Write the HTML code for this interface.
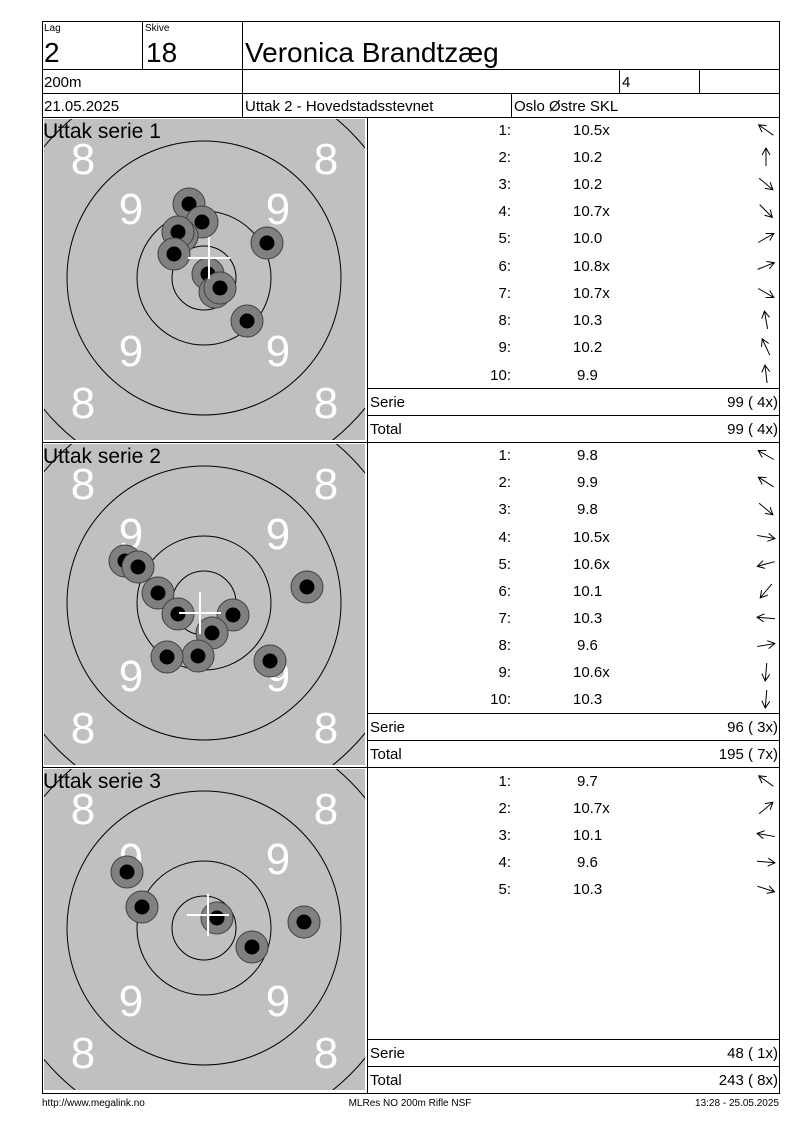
<!DOCTYPE html>
<html><head><meta charset="utf-8"><style>
html,body{margin:0;padding:0;background:#fff;width:800px;height:1130px;overflow:hidden}
svg{display:block;font-family:"Liberation Sans",Arial,sans-serif}
text{font-family:"Liberation Sans",Arial,sans-serif;fill:#000}
.w{fill:#fff;font-size:44px}
.s{font-size:15px}
</style></head><body>
<svg width="800" height="1130" viewBox="0 0 800 1130" xmlns="http://www.w3.org/2000/svg" font-family="Liberation Sans, Arial, sans-serif">
<defs>
<clipPath id="cp"><rect x="44" y="2" width="321" height="321"/></clipPath>
<g id="tgt">
  <rect x="44" y="2" width="321" height="321" fill="#c0c0c0"/>
  <g fill="none" stroke="#000" stroke-width="1">
    <circle cx="204" cy="161" r="32"/>
    <circle cx="204" cy="161" r="67"/>
    <circle cx="204" cy="161" r="137"/>
  </g>
  <g clip-path="url(#cp)"><circle cx="204" cy="161" r="207" fill="none" stroke="#000"/></g>
  <g fill="#fff" font-size="44" font-family="Liberation Sans, Arial, sans-serif" text-anchor="middle">
  <text class="w" x="83" y="57">8</text>
  <text class="w" x="326" y="57">8</text>
  <text class="w" x="83" y="301">8</text>
  <text class="w" x="326" y="301">8</text>
  <text class="w" x="131" y="107">9</text>
  <text class="w" x="278" y="107">9</text>
  <text class="w" x="131" y="249">9</text>
  <text class="w" x="278" y="249">9</text>
  </g>
</g>
<g id="shot"><circle r="16" fill="#808080" stroke="#404040" stroke-width="1"/><circle r="7.5" fill="#000"/></g>
<g id="ar"><path d="M-9,0 H9 M2,-4 L9,0 L2,4" fill="none" stroke="#000" stroke-width="1"/></g>
</defs>

<use href="#tgt" y="117"/>
<use href="#tgt" y="442"/>
<use href="#tgt" y="767"/>

<use href="#shot" x="189" y="204"/><use href="#shot" x="202" y="222"/><use href="#shot" x="182" y="236"/><use href="#shot" x="178" y="232"/><use href="#shot" x="174" y="254"/><use href="#shot" x="267" y="243"/><use href="#shot" x="208" y="274"/><use href="#shot" x="215" y="292"/><use href="#shot" x="220" y="288"/><use href="#shot" x="247" y="321"/>
<g stroke="#fff" stroke-width="2"><line x1="188" y1="258" x2="230" y2="258"/><line x1="209" y1="237" x2="209" y2="279"/></g>
<use href="#shot" x="125" y="561"/><use href="#shot" x="138" y="567"/><use href="#shot" x="158" y="593"/><use href="#shot" x="178" y="614"/><use href="#shot" x="233" y="615"/><use href="#shot" x="212" y="633"/><use href="#shot" x="198" y="656"/><use href="#shot" x="167" y="657"/><use href="#shot" x="307" y="587"/><use href="#shot" x="270" y="661"/>
<g stroke="#fff" stroke-width="2"><line x1="179" y1="613" x2="221" y2="613"/><line x1="200" y1="592" x2="200" y2="634"/></g>
<use href="#shot" x="127" y="872"/><use href="#shot" x="142" y="907"/><use href="#shot" x="217" y="918"/><use href="#shot" x="252" y="947"/><use href="#shot" x="304" y="922"/>
<g stroke="#fff" stroke-width="2"><line x1="187" y1="915" x2="229" y2="915"/><line x1="208" y1="894" x2="208" y2="936"/></g>

<g stroke="#000" stroke-width="1" fill="none">
  <rect x="42.5" y="21.5" width="737" height="1072"/>
  <line x1="42" y1="69.5" x2="780" y2="69.5"/>
  <line x1="42" y1="93.5" x2="780" y2="93.5"/>
  <line x1="42" y1="117.5" x2="780" y2="117.5"/>
  <line x1="142.5" y1="21" x2="142.5" y2="69"/>
  <line x1="242.5" y1="21" x2="242.5" y2="117"/>
  <line x1="619.5" y1="69" x2="619.5" y2="93"/>
  <line x1="699.5" y1="69" x2="699.5" y2="93"/>
  <line x1="511.5" y1="93" x2="511.5" y2="117"/>
  <line x1="367.5" y1="117" x2="367.5" y2="1093"/>
  <line x1="42" y1="442.5" x2="780" y2="442.5"/>
  <line x1="42" y1="767.5" x2="780" y2="767.5"/>
  <line x1="367" y1="388.5" x2="780" y2="388.5"/>
  <line x1="367" y1="415.5" x2="780" y2="415.5"/>
  <line x1="367" y1="713.5" x2="780" y2="713.5"/>
  <line x1="367" y1="740.5" x2="780" y2="740.5"/>
  <line x1="367" y1="1039.5" x2="780" y2="1039.5"/>
  <line x1="367" y1="1066.5" x2="780" y2="1066.5"/>
</g>

<text x="44" y="31" font-size="10">Lag</text>
<text x="44" y="62" font-size="28">2</text>
<text x="145" y="31" font-size="10">Skive</text>
<text x="146" y="62" font-size="28">18</text>
<text x="245" y="62" font-size="28">Veronica Brandtzæg</text>
<text x="44" y="87" font-size="15">200m</text>
<text x="622" y="87" font-size="15">4</text>
<text x="44" y="111" font-size="15">21.05.2025</text>
<text x="245" y="111" font-size="15">Uttak 2 - Hovedstadsstevnet</text>
<text x="514" y="111" font-size="15">Oslo Østre SKL</text>

<text x="43" y="138" font-size="21">Uttak serie 1</text>
<text x="43" y="463" font-size="21">Uttak serie 2</text>
<text x="43" y="788" font-size="21">Uttak serie 3</text>

<g font-size="15">
<text x="511" y="135" text-anchor="end" class="s">1:</text><text x="573" y="135" class="s">10.5x</text>
<text x="511" y="162" text-anchor="end" class="s">2:</text><text x="573" y="162" class="s">10.2</text>
<text x="511" y="189" text-anchor="end" class="s">3:</text><text x="573" y="189" class="s">10.2</text>
<text x="511" y="216" text-anchor="end" class="s">4:</text><text x="573" y="216" class="s">10.7x</text>
<text x="511" y="243" text-anchor="end" class="s">5:</text><text x="573" y="243" class="s">10.0</text>
<text x="511" y="271" text-anchor="end" class="s">6:</text><text x="573" y="271" class="s">10.8x</text>
<text x="511" y="298" text-anchor="end" class="s">7:</text><text x="573" y="298" class="s">10.7x</text>
<text x="511" y="325" text-anchor="end" class="s">8:</text><text x="573" y="325" class="s">10.3</text>
<text x="511" y="352" text-anchor="end" class="s">9:</text><text x="573" y="352" class="s">10.2</text>
<text x="511" y="380" text-anchor="end" class="s">10:</text><text x="577" y="380" class="s">9.9</text>
<text x="370" y="407" class="s">Serie</text><text x="778" y="407" text-anchor="end" class="s">99 ( 4x)</text>
<text x="370" y="434" class="s">Total</text><text x="778" y="434" text-anchor="end" class="s">99 ( 4x)</text>

<text x="511" y="460" text-anchor="end" class="s">1:</text><text x="577" y="460" class="s">9.8</text>
<text x="511" y="487" text-anchor="end" class="s">2:</text><text x="577" y="487" class="s">9.9</text>
<text x="511" y="514" text-anchor="end" class="s">3:</text><text x="577" y="514" class="s">9.8</text>
<text x="511" y="542" text-anchor="end" class="s">4:</text><text x="573" y="542" class="s">10.5x</text>
<text x="511" y="569" text-anchor="end" class="s">5:</text><text x="573" y="569" class="s">10.6x</text>
<text x="511" y="596" text-anchor="end" class="s">6:</text><text x="573" y="596" class="s">10.1</text>
<text x="511" y="623" text-anchor="end" class="s">7:</text><text x="573" y="623" class="s">10.3</text>
<text x="511" y="650" text-anchor="end" class="s">8:</text><text x="577" y="650" class="s">9.6</text>
<text x="511" y="677" text-anchor="end" class="s">9:</text><text x="573" y="677" class="s">10.6x</text>
<text x="511" y="704" text-anchor="end" class="s">10:</text><text x="573" y="704" class="s">10.3</text>
<text x="370" y="732" class="s">Serie</text><text x="778" y="732" text-anchor="end" class="s">96 ( 3x)</text>
<text x="370" y="759" class="s">Total</text><text x="778" y="759" text-anchor="end" class="s">195 ( 7x)</text>

<text x="511" y="786" text-anchor="end" class="s">1:</text><text x="577" y="786" class="s">9.7</text>
<text x="511" y="813" text-anchor="end" class="s">2:</text><text x="573" y="813" class="s">10.7x</text>
<text x="511" y="840" text-anchor="end" class="s">3:</text><text x="573" y="840" class="s">10.1</text>
<text x="511" y="867" text-anchor="end" class="s">4:</text><text x="577" y="867" class="s">9.6</text>
<text x="511" y="894" text-anchor="end" class="s">5:</text><text x="573" y="894" class="s">10.3</text>
<text x="370" y="1058" class="s">Serie</text><text x="778" y="1058" text-anchor="end" class="s">48 ( 1x)</text>
<text x="370" y="1085" class="s">Total</text><text x="778" y="1085" text-anchor="end" class="s">243 ( 8x)</text>
</g>

<g fill="none" stroke="#000" stroke-width="1">
<path transform="translate(766,130) rotate(-145)" d="M-9,0 H9 M2,-4 L9,0 L2,4"/>
<path transform="translate(766,157) rotate(-90)" d="M-9,0 H9 M2,-4 L9,0 L2,4"/>
<path transform="translate(766,184) rotate(40)" d="M-9,0 H9 M2,-4 L9,0 L2,4"/>
<path transform="translate(766,211) rotate(45)" d="M-9,0 H9 M2,-4 L9,0 L2,4"/>
<path transform="translate(766,238) rotate(-30)" d="M-9,0 H9 M2,-4 L9,0 L2,4"/>
<path transform="translate(766,266) rotate(-22)" d="M-9,0 H9 M2,-4 L9,0 L2,4"/>
<path transform="translate(766,293) rotate(30)" d="M-9,0 H9 M2,-4 L9,0 L2,4"/>
<path transform="translate(766,320) rotate(-100)" d="M-9,0 H9 M2,-4 L9,0 L2,4"/>
<path transform="translate(766,347) rotate(-115)" d="M-9,0 H9 M2,-4 L9,0 L2,4"/>
<path transform="translate(766,374) rotate(-97)" d="M-9,0 H9 M2,-4 L9,0 L2,4"/>
<path transform="translate(766,455) rotate(-150)" d="M-9,0 H9 M2,-4 L9,0 L2,4"/>
<path transform="translate(766,482) rotate(-148)" d="M-9,0 H9 M2,-4 L9,0 L2,4"/>
<path transform="translate(766,509) rotate(40)" d="M-9,0 H9 M2,-4 L9,0 L2,4"/>
<path transform="translate(766,537) rotate(10)" d="M-9,0 H9 M2,-4 L9,0 L2,4"/>
<path transform="translate(766,564) rotate(165)" d="M-9,0 H9 M2,-4 L9,0 L2,4"/>
<path transform="translate(766,591) rotate(130)" d="M-9,0 H9 M2,-4 L9,0 L2,4"/>
<path transform="translate(766,618) rotate(-175)" d="M-9,0 H9 M2,-4 L9,0 L2,4"/>
<path transform="translate(766,645) rotate(-10)" d="M-9,0 H9 M2,-4 L9,0 L2,4"/>
<path transform="translate(766,672) rotate(95)" d="M-9,0 H9 M2,-4 L9,0 L2,4"/>
<path transform="translate(766,699) rotate(95)" d="M-9,0 H9 M2,-4 L9,0 L2,4"/>
<path transform="translate(766,781) rotate(-145)" d="M-9,0 H9 M2,-4 L9,0 L2,4"/>
<path transform="translate(766,808) rotate(-40)" d="M-9,0 H9 M2,-4 L9,0 L2,4"/>
<path transform="translate(766,835) rotate(-170)" d="M-9,0 H9 M2,-4 L9,0 L2,4"/>
<path transform="translate(766,862) rotate(5)" d="M-9,0 H9 M2,-4 L9,0 L2,4"/>
<path transform="translate(766,889) rotate(18)" d="M-9,0 H9 M2,-4 L9,0 L2,4"/>
</g>

<text x="42" y="1106" font-size="10">http://www.megalink.no</text>
<text x="410" y="1106" font-size="10" text-anchor="middle">MLRes NO 200m Rifle NSF</text>
<text x="779" y="1106" font-size="10" text-anchor="end">13:28 - 25.05.2025</text>
</svg>
</body></html>
